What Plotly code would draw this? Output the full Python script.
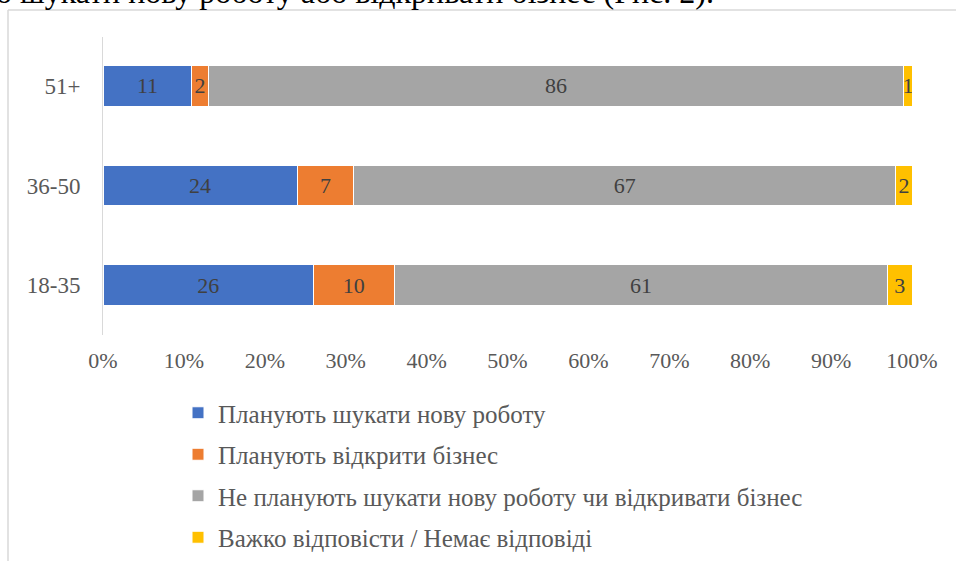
import plotly.graph_objects as go

categories = ["18-35", "36-50", "51+"]
series_names = [
    "Планують шукати нову роботу",
    "Планують відкрити бізнес",
    "Не планують шукати нову роботу чи відкривати бізнес",
    "Важко відповісти / Немає відповіді",
]
new_job = [26, 24, 11]
business = [10, 7, 2]
no_plans = [61, 67, 86]
hard_to_say = [3, 2, 1]
series_values = [new_job, business, no_plans, hard_to_say]
colors = ["#4472C4", "#ED7D31", "#A5A5A5", "#FFC000"]
tick_values = [0, 10, 20, 30, 40, 50, 60, 70, 80, 90, 100]
tick_labels = ["0%", "10%", "20%", "30%", "40%", "50%", "60%", "70%", "80%", "90%", "100%"]
top_text = "о шукати нову роботу або відкривати бізнес (Рис. 2)."

W, H = 956, 561
L, R, T, B = 103, 44, 37, 226
pw, ph = W - L - R, H - T - B


def px_x(p):
    return (p - L) / pw


def px_y(p):
    return (H - B - p) / ph


serif = "Liberation Serif, Times New Roman, serif"
fig = go.Figure()
for i, (name, vals, col) in enumerate(zip(series_names, series_values, colors)):
    fig.add_trace(go.Bar(
        y=categories, x=vals, name=name, orientation="h",
        marker=dict(color=col, line=dict(color="white", width=1)),
        text=[str(v) for v in vals], textposition="inside",
        insidetextanchor="middle", textangle=0,
        textfont=dict(family=serif, size=22, color="#404040"),
        legendgroup=f"g{i}",
        hoverinfo="skip",
    ))

fig.update_layout(
    width=W, height=H,
    margin=dict(l=L, r=R, t=T, b=B, pad=0, autoexpand=False),
    barmode="stack", bargap=0.59,
    paper_bgcolor="white", plot_bgcolor="white",
    font=dict(family=serif, size=22, color="#595959"),
    uniformtext=dict(mode="show", minsize=22),
    showlegend=True,
    legend=dict(
        orientation="v", xref="container", yref="container",
        x=178 / W, y=1 - 390 / H, xanchor="left", yanchor="top",
        traceorder="grouped", tracegroupgap=6,
        font=dict(family=serif, size=25, color="#595959"),
        bgcolor="rgba(0,0,0,0)",
    ),
    xaxis=dict(
        range=[0, 100], tickvals=tick_values, ticktext=tick_labels,
        showgrid=False, zeroline=False, showline=False,
        ticks="outside", ticklen=6, tickcolor="rgba(0,0,0,0)",
        tickfont=dict(family=serif, size=22, color="#595959"),
        fixedrange=True,
    ),
    yaxis=dict(
        type="category", categoryorder="array", categoryarray=categories,
        range=[-0.5, 2.49],
        showgrid=False, zeroline=False,
        showline=True, linecolor="#D9D9D9", linewidth=1,
        ticks="outside", ticklen=17, tickcolor="rgba(0,0,0,0)",
        tickfont=dict(family=serif, size=23, color="#595959"),
        fixedrange=True,
    ),
    shapes=[
        dict(type="line", xref="paper", yref="paper",
             x0=px_x(8), x1=px_x(960), y0=px_y(10), y1=px_y(10),
             line=dict(color="#D9D9D9", width=1.5)),
        dict(type="line", xref="paper", yref="paper",
             x0=px_x(8), x1=px_x(8), y0=px_y(10), y1=px_y(565),
             line=dict(color="#D9D9D9", width=1.5)),
    ],
    annotations=[
        dict(text=top_text, xref="paper", yref="paper",
             x=px_x(-6), y=px_y(12), xanchor="left", yanchor="bottom",
             showarrow=False, font=dict(family=serif, size=32, color="black")),
    ],
)

fig.write_html(
    "out.html",
    config={"displayModeBar": False, "responsive": False},
    post_script="document.body.style.margin='0';document.body.style.overflow='hidden';",
)
